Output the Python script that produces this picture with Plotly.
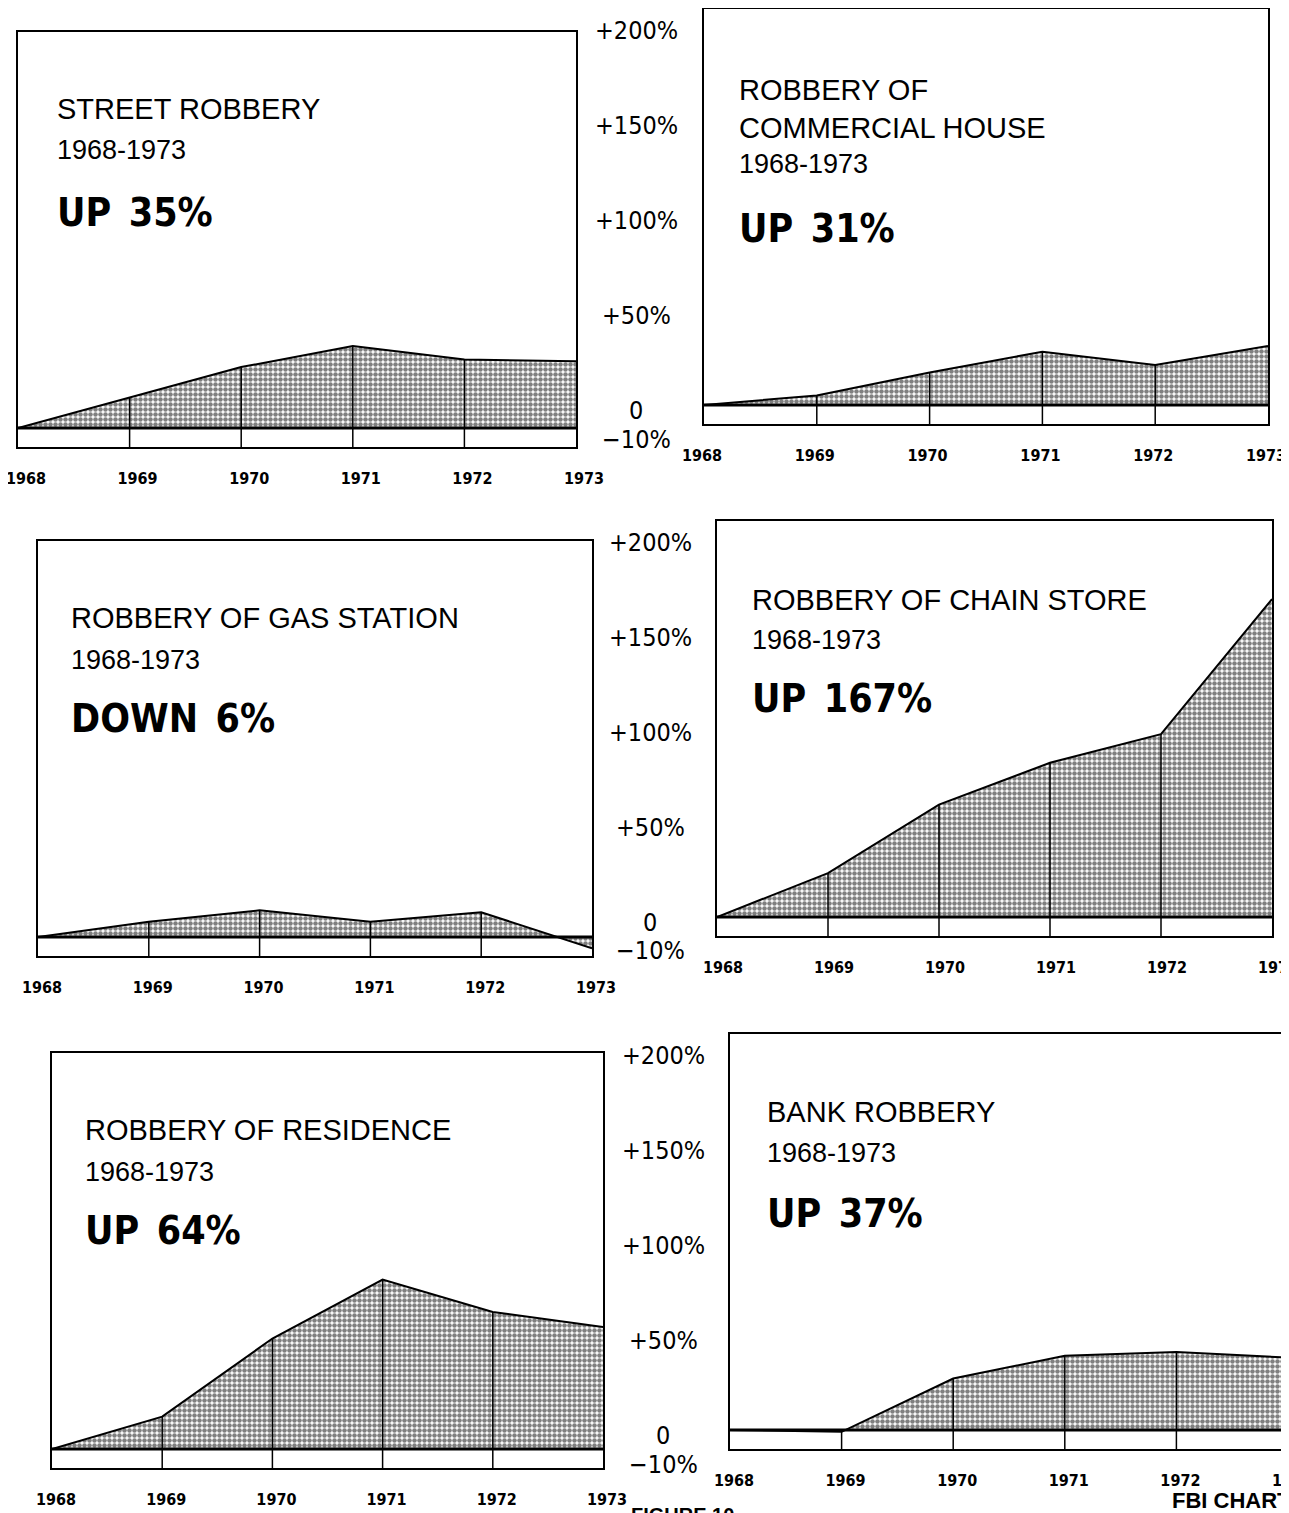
import plotly.graph_objects as go

# ---------------- data ----------------
years = [1968, 1969, 1970, 1971, 1972, 1973]
year_labels = ["1968", "1969", "1970", "1971", "1972", "1973"]

street = [0, 16, 32, 43, 36, 35]
commercial = [0, 5, 17, 28, 21, 31]
gas_station = [0, 8, 14, 8, 13, -6]
chain_store = [0, 23, 59, 81, 96, 167]
residence = [0, 17, 58, 89, 72, 64]
bank = [0, -1, 27, 39, 41, 38]

titles = ["STREET ROBBERY", "ROBBERY OF<br>COMMERCIAL HOUSE", "ROBBERY OF GAS STATION",
          "ROBBERY OF CHAIN STORE", "ROBBERY OF RESIDENCE", "BANK ROBBERY"]
period = "1968-1973"
headlines = ["UP 35%", "UP 31%", "DOWN 6%", "UP 167%", "UP 64%", "UP 37%"]

scale_vals = [200, 150, 100, 50, 0, -10]
scale_text = ["+200%", "+150%", "+100%", "+50%", "0", "\u221210%"]

series = [street, commercial, gas_station, chain_store, residence, bank]

# ---------------- layout geometry ----------------
# The page body has an 8px default margin, so the figure is made 8px smaller
# and positions below are given in page pixels, then converted.
PAGE_W, PAGE_H = 1289, 1513
OFF = 8
W, H = PAGE_W - OFF, PAGE_H - OFF


def fx(px):
    return (px - OFF) / W


def fy(py):
    return 1 - (py - OFF) / H


# panel boxes in page pixels: left, right, top, bottom(-10% line)
boxes = [(18, 576, 32, 447), (704, 1268, 9, 424),
         (38, 592, 541, 956), (717, 1272, 521, 936),
         (52, 603, 1053, 1468), (730, 1288, 1034, 1449)]
label_shift = [8, -2, 4, 6, 4, 4]
title_y = [0.815, 0.758, 0.815, 0.81, 0.814, 0.812]
period_y = [0.716, 0.627, 0.713, 0.713, 0.713, 0.713]
head_y = [0.566, 0.470, 0.573, 0.573, 0.573, 0.568]
text_x = [0.066, 0.0585, 0.056, 0.0595, 0.056, 0.063]
scale_cx = [636, 650, 663]

TITLE_FONT = "Liberation Sans, Arial, Helvetica, sans-serif"
NARROW = "Liberation Sans Narrow, DejaVu Sans Condensed, Arial Narrow, sans-serif"

fig = go.Figure()
annotations = []

for i, vals in enumerate(series):
    k = "" if i == 0 else str(i + 1)
    xa, ya = "x" + k, "y" + k
    left, right, top, bottom = boxes[i]
    # shaded area
    fig.add_trace(go.Scatter(
        x=years, y=vals, xaxis=xa, yaxis=ya, mode="lines",
        line=dict(color="black", width=2), fill="tozeroy",
        fillcolor="white",
        fillpattern=dict(shape=".", fgcolor="black", bgcolor="white",
                         size=5, solidity=0.65),
        hoverinfo="skip", showlegend=False))
    # year divider lines from bottom of strip up to the curve
    dx, dy = [], []
    for yr, v in zip(years[1:-1], vals[1:-1]):
        dx += [yr, yr, None]
        dy += [-10, v, None]
    fig.add_trace(go.Scatter(
        x=dx, y=dy, xaxis=xa, yaxis=ya, mode="lines",
        line=dict(color="black", width=1.5), hoverinfo="skip", showlegend=False))
    # zero baseline
    fig.add_trace(go.Scatter(
        x=years, y=[0] * len(years), xaxis=xa, yaxis=ya, mode="lines",
        line=dict(color="black", width=3), hoverinfo="skip", showlegend=False))

    axis_common = dict(showgrid=False, zeroline=False, showline=True, mirror=True,
                       linecolor="black", linewidth=1.5, automargin=False,
                       fixedrange=True)
    fig.update_layout(**{
        ("xaxis" + k): dict(domain=[fx(left), min(fx(right), 1.0)], anchor=ya,
                            range=[1968, 1973],
                            tickvals=years, ticktext=year_labels,
                            ticks="outside", ticklen=16, tickcolor="rgba(0,0,0,0)",
                            ticklabeloverflow="allow", ticklabelshift=label_shift[i],
                            tickfont=dict(family=NARROW, size=16, color="black",
                                          weight="bold"),
                            **axis_common),
        ("yaxis" + k): dict(domain=[fy(bottom), fy(top)], anchor=xa, range=[-10, 208],
                            showticklabels=False, **axis_common),
    })

    ref_x, ref_y = xa + " domain", ya + " domain"
    annotations.append(dict(text=titles[i], x=text_x[i], y=title_y[i], xref=ref_x, yref=ref_y,
                            xanchor="left", yanchor="middle", showarrow=False, align="left",
                            font=dict(family=TITLE_FONT, size=29, color="black")))
    annotations.append(dict(text=period, x=text_x[i], y=period_y[i], xref=ref_x, yref=ref_y,
                            xanchor="left", yanchor="middle", showarrow=False,
                            font=dict(family=TITLE_FONT, size=27, color="black")))
    annotations.append(dict(text=headlines[i].replace(" ", "\u2002"),
                            x=text_x[i], y=head_y[i], xref=ref_x, yref=ref_y,
                            xanchor="left", yanchor="middle", showarrow=False,
                            font=dict(family=NARROW, size=39, color="black", weight="bold")))

# percentage scale columns between the panels
for r in range(3):
    yref = "y" + str(2 * r + 2)
    for v, t in zip(scale_vals, scale_text):
        annotations.append(dict(text=t, x=fx(scale_cx[r]), y=v, xref="paper", yref=yref,
                                xanchor="center", yanchor="middle", showarrow=False,
                                yshift=-15 if v < 0 else -6,
                                font=dict(family=NARROW, size=25, color="black")))

annotations.append(dict(text="FBI CHART", x=fx(1170), y=fy(1500), xref="paper", yref="paper",
                        xanchor="left", yanchor="middle", showarrow=False,
                        font=dict(family=TITLE_FONT, size=22, color="black", weight="bold")))
annotations.append(dict(text="FIGURE 10", x=fx(736), y=fy(1502), xref="paper", yref="paper",
                        xanchor="right", yanchor="top", showarrow=False,
                        font=dict(family=TITLE_FONT, size=20, color="black", weight="bold")))

fig.update_layout(width=W, height=H,
                  margin=dict(l=0, r=0, t=0, b=0, pad=0, autoexpand=False),
                  paper_bgcolor="white", plot_bgcolor="white",
                  showlegend=False, annotations=annotations)

fig.write_html("out.html")
